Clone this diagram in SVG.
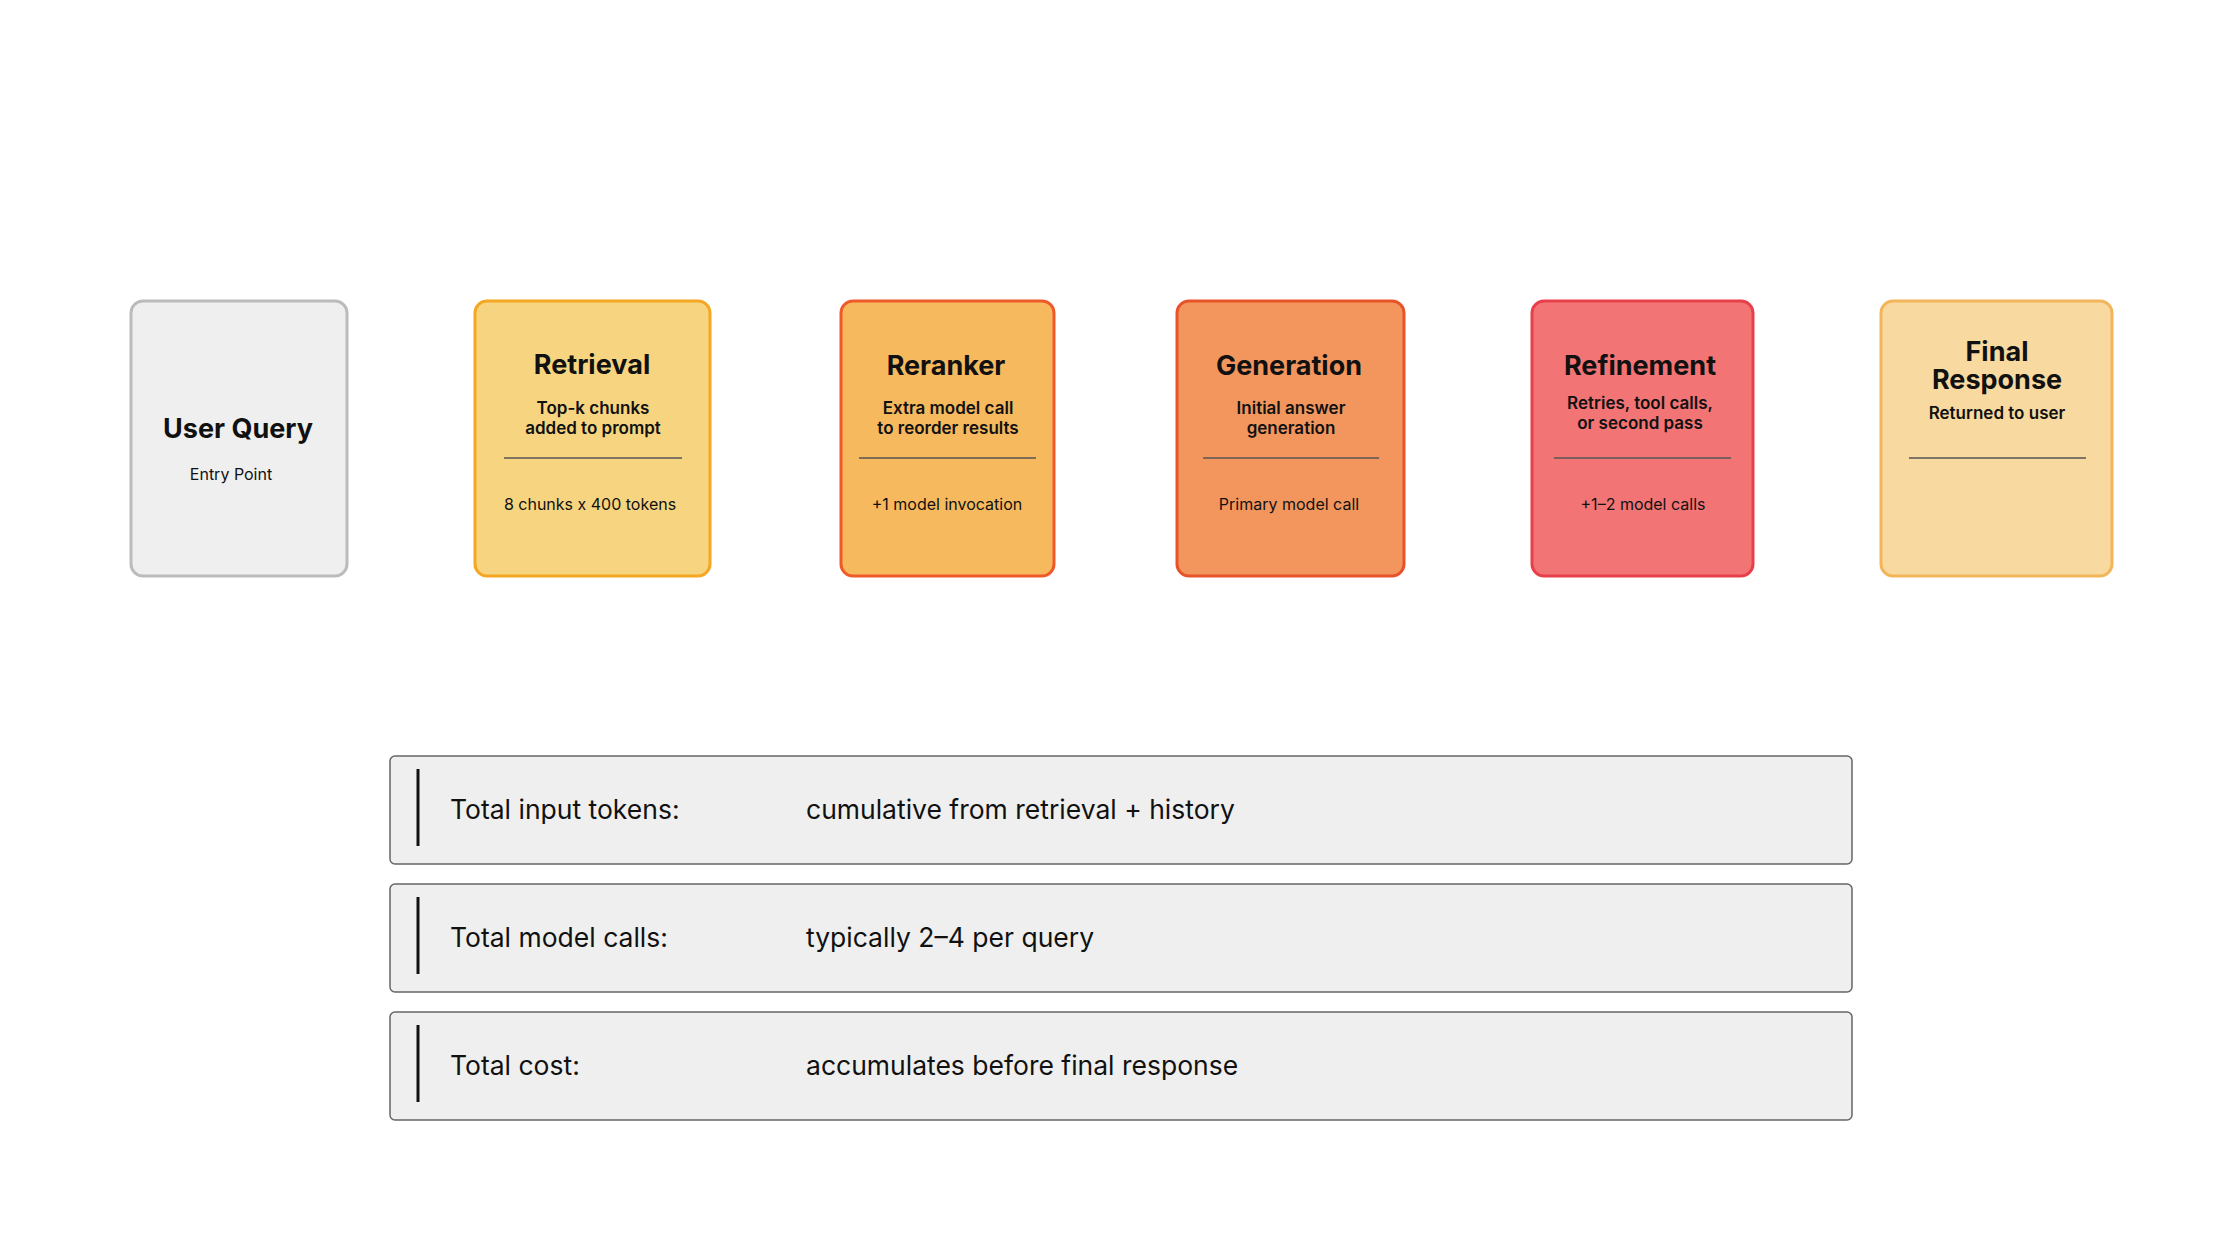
<svg xmlns="http://www.w3.org/2000/svg" width="2240" height="1260" viewBox="0 0 2240 1260">
<style>
text{font-family:Inter,"Noto Sans","Liberation Sans",sans-serif;fill:#111;text-anchor:middle}
.t{font-size:27px;font-weight:700}
.s{font-size:17px;font-weight:600}
.b{font-size:16px}
.card{stroke-width:3}
.div{stroke:#555;stroke-width:1.5}
.row{fill:#efefef;stroke:#666;stroke-width:1.5}
.rl{font-size:26.5px;text-anchor:start}
.bar{stroke:#111;stroke-width:3}
</style>
<rect width="2240" height="1260" fill="#fff"/>
<g id="user-query"><rect class="card" x="131" y="301" width="216" height="275" rx="12" fill="#efefef" stroke="#bbb"/>
<text class="t" x="238" y="438">User Query</text><text class="b" x="231" y="480">Entry Point</text></g>
<g id="retrieval"><rect class="card" x="475" y="301" width="235" height="275" rx="12" fill="#f7d580" stroke="#f5a623"/>
<text class="t" x="592" y="374">Retrieval</text><text class="s" x="593" y="414">Top-k chunks</text><text class="s" x="593" y="434">added to prompt</text>
<line class="div" x1="504" y1="458" x2="682" y2="458"/><text class="b" x="590" y="510">8 chunks x 400 tokens</text></g>
<g id="reranker"><rect class="card" x="841" y="301" width="213" height="275" rx="12" fill="#f6b95e" stroke="#ee5a2a"/>
<text class="t" x="946" y="375">Reranker</text><text class="s" x="948" y="414">Extra model call</text><text class="s" x="948" y="434">to reorder results</text>
<line class="div" x1="859" y1="458" x2="1036" y2="458"/><text class="b" x="947" y="510">+1 model invocation</text></g>
<g id="generation"><rect class="card" x="1177" y="301" width="227" height="275" rx="12" fill="#f2965e" stroke="#e8542a"/>
<text class="t" x="1289" y="375">Generation</text><text class="s" x="1291" y="414">Initial answer</text><text class="s" x="1291" y="434">generation</text>
<line class="div" x1="1203" y1="458" x2="1379" y2="458"/><text class="b" x="1289" y="510">Primary model call</text></g>
<g id="refinement"><rect class="card" x="1532" y="301" width="221" height="275" rx="12" fill="#f27474" stroke="#e8404a"/>
<text class="t" x="1640" y="375">Refinement</text><text class="s" x="1640" y="409">Retries, tool calls,</text><text class="s" x="1640" y="429">or second pass</text>
<line class="div" x1="1554" y1="458" x2="1731" y2="458"/><text class="b" x="1643" y="510">+1–2 model calls</text></g>
<g id="final-response"><rect class="card" x="1881" y="301" width="231" height="275" rx="12" fill="#f8d9a0" stroke="#f2b55a"/>
<text class="t" x="1997" y="361">Final</text><text class="t" x="1997" y="389">Response</text><text class="s" x="1997" y="419">Returned to user</text>
<line class="div" x1="1909" y1="458" x2="2086" y2="458"/></g>
<g id="connectors"></g>
<g id="totals">
<rect class="row" x="390" y="756" width="1462" height="108" rx="5"/><line class="bar" x1="418" y1="769" x2="418" y2="846"/>
<text class="rl" x="450" y="819">Total input tokens:</text><text class="rl" x="806" y="819">cumulative from retrieval + history</text>
<rect class="row" x="390" y="884" width="1462" height="108" rx="5"/><line class="bar" x1="418" y1="897" x2="418" y2="974"/>
<text class="rl" x="450" y="947">Total model calls:</text><text class="rl" x="806" y="947">typically 2–4 per query</text>
<rect class="row" x="390" y="1012" width="1462" height="108" rx="5"/><line class="bar" x1="418" y1="1025" x2="418" y2="1102"/>
<text class="rl" x="450" y="1075">Total cost:</text><text class="rl" x="806" y="1075">accumulates before final response</text>
</g>
</svg>
